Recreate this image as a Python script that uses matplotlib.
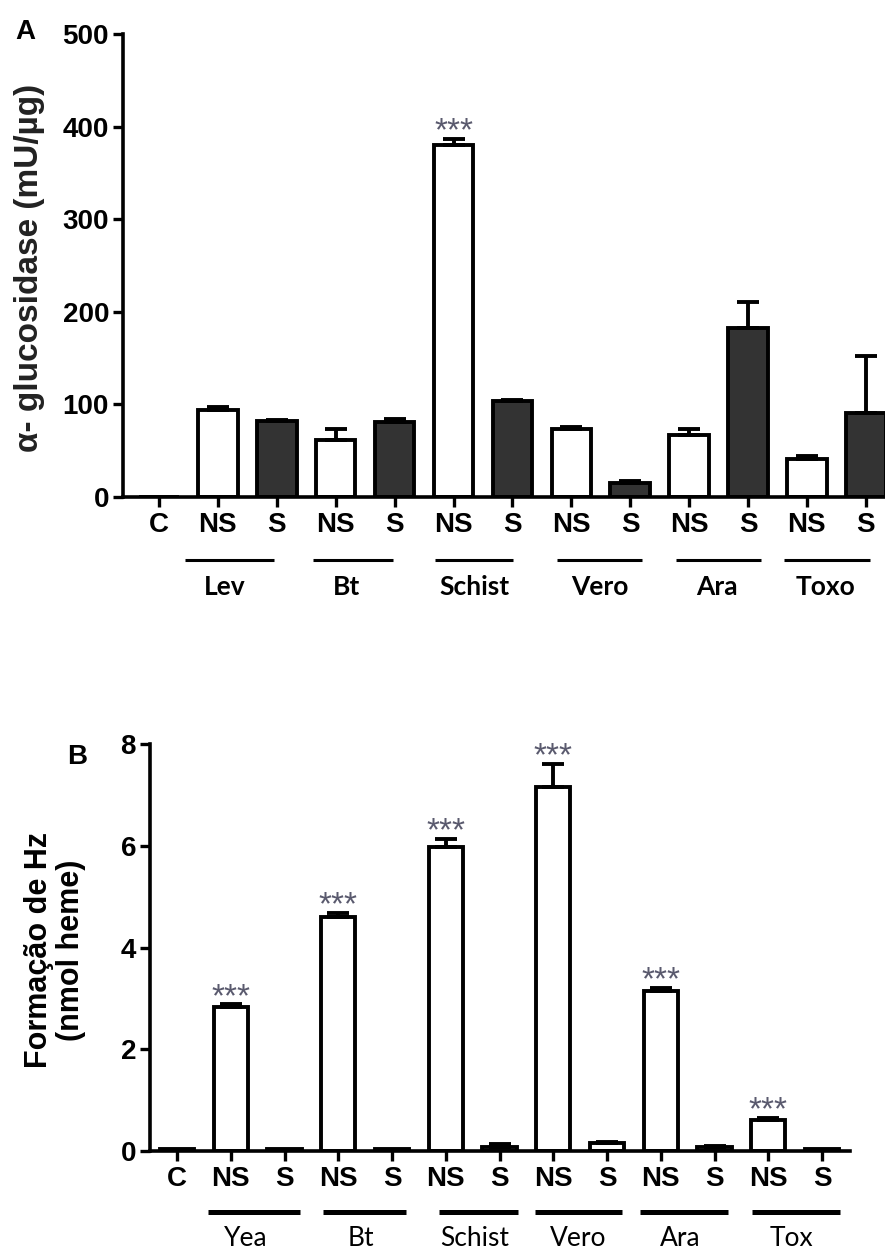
import matplotlib
matplotlib.use("Agg")
import matplotlib.pyplot as plt
import matplotlib.transforms as mtransforms
import numpy as np

# ---------------- data ----------------
tick_labels = ["C", "NS", "S", "NS", "S", "NS", "S", "NS", "S", "NS", "S", "NS", "S"]

# Panel A: alpha-glucosidase
a_values = [0, 94, 82, 62, 81, 380, 104, 73.5, 15, 67, 182.5, 41, 91]
a_err = [0, 3, 1, 11, 3, 7, 1, 2.5, 2, 6, 28.5, 3, 61]
a_stars = [False, False, False, False, False, True, False, False, False, False, False, False, False]
a_groups = ["Lev", "Bt", "Schist", "Vero", "Ara", "Toxo"]

# Panel B: hemozoin formation
b_values = [0.03, 2.83, 0.03, 4.60, 0.03, 5.97, 0.08, 7.15, 0.15, 3.14, 0.07, 0.60, 0.03]
b_err = [0, 0.05, 0, 0.08, 0, 0.17, 0.05, 0.45, 0.03, 0.07, 0.02, 0.05, 0]
b_stars = [False, True, False, True, False, True, False, True, False, True, False, True, False]
b_groups = ["Yea", "Bt", "Schist", "Vero", "Ara", "Tox"]

# ---------------- layout (annotation positions in x-data units) ----------------
a_line_spans = [(0.44, 1.95), (2.61, 3.97), (4.69, 6.01), (6.76, 8.20), (8.78, 10.22), (10.61, 12.07)]
a_label_x = [1.12, 3.19, 5.35, 7.49, 9.47, 11.31]
b_line_spans = [(0.58, 2.29), (2.72, 4.26), (4.87, 6.34), (6.66, 8.28), (8.61, 10.25), (10.70, 12.33)]
b_label_x = [1.28, 3.42, 5.53, 7.46, 9.36, 11.44]

W, H = 885, 1252
fig = plt.figure(figsize=(W / 100, H / 100), dpi=100)

TICKFONT = dict(family="Liberation Sans", weight="bold", size=20)
LW = 2.8


def style_axes(ax, ymax, yticks):
    for s in ["top", "right"]:
        ax.spines[s].set_visible(False)
    for s in ["left", "bottom"]:
        ax.spines[s].set_linewidth(2.6)
        ax.spines[s].set_capstyle("projecting")
    ax.set_ylim(0, ymax)
    ax.set_yticks(yticks)
    ax.set_yticklabels([str(t) for t in yticks], fontdict=TICKFONT)
    x = np.arange(len(tick_labels))
    ax.set_xticks(x)
    ax.set_xticklabels(tick_labels, fontdict=TICKFONT)
    ax.tick_params(axis="both", direction="out", length=7, width=2.4, color="black")
    ax.tick_params(axis="y", pad=3)
    ax.tick_params(axis="x", pad=4)


def draw_bars(ax, values, errs, colors, width):
    x = np.arange(len(values))
    ax.bar(x, values, width=width, color=colors, edgecolor="black", linewidth=LW, zorder=2)
    vals = np.array(values, dtype=float)
    e = np.array(errs, dtype=float)
    m = e > 0
    ax.errorbar(x[m], vals[m], yerr=[np.zeros(m.sum()), e[m]], fmt="none",
                ecolor="black", elinewidth=2.8, capsize=8, capthick=2.8, zorder=3)


def draw_stars(ax, values, errs, stars):
    for i, (v, e, s) in enumerate(zip(values, errs, stars)):
        if s:
            ax.annotate("***", xy=(i, v + e), xytext=(0, -1), textcoords="offset points",
                        ha="center", va="baseline", fontsize=24, color="#5a5a6e",
                        family="Liberation Sans", zorder=4)


def draw_groups(ax, spans, label_x, names, line_y, label_y, lw, weight):
    trans = mtransforms.blended_transform_factory(ax.transData, ax.transAxes)
    for (x0, x1), lx, name in zip(spans, label_x, names):
        ax.plot([x0, x1], [line_y, line_y], color="black", lw=lw, transform=trans,
                clip_on=False, solid_capstyle="butt")
        ax.text(lx, label_y, name, transform=trans, ha="center", va="center",
                fontsize=19, family="Lato", weight=weight, color="black")


# ---------------- Panel A ----------------
axA = fig.add_axes([123 / W, 1 - 497 / H, (885 - 123) / W, (497 - 34) / H])
a_colors = ["white" if lab in ("C", "NS") else "#333333" for lab in tick_labels]
draw_bars(axA, a_values, a_err, a_colors, 0.67)
style_axes(axA, 500, [0, 100, 200, 300, 400, 500])
axA.set_xlim((123 - 159) / 58.9, (885 - 159) / 58.9)
draw_stars(axA, a_values, a_err, a_stars)
draw_groups(axA, a_line_spans, a_label_x, a_groups, -0.136, -0.194, 2.2, "bold")

fig.text(30 / W, 1 - 268 / H, "α- glucosidase (mU/µg)", rotation=90, ha="center", va="center",
         fontsize=24, family="Liberation Sans", weight="bold", color="#222222")
fig.text(25 / W, 1 - 32 / H, "A", ha="center", va="center", fontsize=20,
         family="Liberation Sans", weight="bold")

# ---------------- Panel B ----------------
axB = fig.add_axes([150 / W, 1 - 1151 / H, (850 - 150) / W, (1151 - 744) / H])
draw_bars(axB, b_values, b_err, ["white"] * len(b_values), 0.64)
style_axes(axB, 8, [0, 2, 4, 6, 8])
axB.set_xlim((150 - 177) / 53.75, (850 - 177) / 53.75)
draw_stars(axB, b_values, b_err, b_stars)
draw_groups(axB, b_line_spans, b_label_x, b_groups, -0.150, -0.214, 3.6, "normal")

fig.text(55 / W, 1 - 950 / H, "Formação de Hz\n(nmol heme)", rotation=90, ha="center",
         va="center", fontsize=22, family="Liberation Sans", weight="bold", color="black",
         multialignment="center", linespacing=1.05)
fig.text(77 / W, 1 - 757 / H, "B", ha="center", va="center", fontsize=20,
         family="Liberation Sans", weight="bold")

fig.savefig("out.png", dpi=100)
